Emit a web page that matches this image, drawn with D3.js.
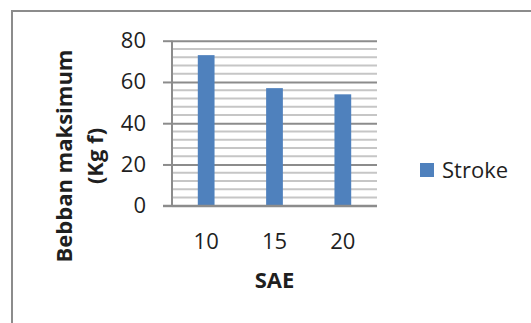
<!DOCTYPE html>
<html><head><meta charset="utf-8">
<script src="https://cdn.jsdelivr.net/npm/d3@7"></script>
<style>html,body{margin:0;padding:0;background:#fff;} svg{display:block;}</style>
</head><body>
<script>
// Maximum load per SAE grade, single series "Stroke"
const categories = ["10", "15", "20"];
const strokeValues = [73, 57, 54];
const yTicks = [0, 20, 40, 60, 80];
const seriesName = "Stroke";
const xTitle = "SAE";
const yTitleLines = ["Bebban maksimum", "(Kg f)"];

const W = 531, H = 323;
const FONT = "'Open Sans', 'DejaVu Sans', sans-serif";
const FS = 22;
const TEXT = "#1f1f1f";
const BLUE = "#4f81bd";

const svg = d3.select("body").append("svg").attr("width", W).attr("height", H);
svg.append("rect").attr("width", W).attr("height", H).attr("fill", "#fff");

// outer chart frame (runs off the right and bottom edges)
svg.append("rect").attr("x", 12).attr("y", 11).attr("width", W + 20).attr("height", H + 20)
  .attr("fill", "none").attr("stroke", "#8c8c8c").attr("stroke-width", 2);

const plot = { left: 172, right: 377, top: 40.7, bottom: 205.7 };
const y = d3.scaleLinear().domain([0, 80]).range([plot.bottom, plot.top]);
const x = d3.scaleBand().domain(categories).range([plot.left, plot.right])
  .paddingInner(0.755).paddingOuter(0.3775);

// minor gridlines every 4 units
const minor = d3.range(0, 81, 4).filter(v => v % 20 !== 0);
svg.append("g").selectAll("line").data(minor).join("line")
  .attr("x1", plot.left).attr("x2", plot.right)
  .attr("y1", d => y(d)).attr("y2", d => y(d))
  .attr("stroke", "#c6c6c6").attr("stroke-width", 2);

// major gridlines
const grid = svg.append("g").attr("transform", `translate(${plot.left},0)`)
  .call(d3.axisLeft(y).tickValues(yTicks).tickSize(-(plot.right - plot.left)).tickFormat(""));
grid.select(".domain").remove();
grid.selectAll("line").attr("stroke", "#8c8c8c").attr("stroke-width", 2);

// y axis with outside ticks and labels
const yAxis = svg.append("g").attr("transform", `translate(${plot.left},0)`)
  .call(d3.axisLeft(y).tickValues(yTicks).tickSize(9).tickPadding(17));
yAxis.select(".domain").remove();
yAxis.selectAll("line").attr("stroke", "#8c8c8c").attr("stroke-width", 2);
yAxis.selectAll("text").attr("font-family", FONT).attr("font-size", FS).attr("fill", TEXT);

svg.append("line").attr("x1", plot.left).attr("x2", plot.left)
  .attr("y1", plot.top).attr("y2", plot.bottom)
  .attr("stroke", "#8c8c8c").attr("stroke-width", 2);

// bars
svg.append("g").selectAll("rect").data(strokeValues).join("rect")
  .attr("x", (d, i) => x(categories[i]))
  .attr("width", x.bandwidth())
  .attr("y", d => y(d))
  .attr("height", d => y(0) - y(d))
  .attr("fill", BLUE);

// x axis
const xAxis = svg.append("g").attr("transform", `translate(0,${plot.bottom})`)
  .call(d3.axisBottom(x).tickSize(0).tickPadding(27.2));
xAxis.select(".domain").remove();
xAxis.selectAll("text").attr("font-family", FONT).attr("font-size", FS).attr("fill", TEXT);
svg.append("line").attr("x1", plot.left - 9).attr("x2", plot.right)
  .attr("y1", plot.bottom).attr("y2", plot.bottom)
  .attr("stroke", "#8c8c8c").attr("stroke-width", 2);

// axis titles
svg.append("text").attr("x", (plot.left + plot.right) / 2).attr("y", 288)
  .attr("text-anchor", "middle").attr("font-family", FONT).attr("font-weight", "bold")
  .attr("font-size", FS).attr("fill", TEXT).text(xTitle);

const yTitleX = [72, 103];
yTitleLines.forEach((line, i) => {
  svg.append("text").attr("transform", `translate(${yTitleX[i]},156) rotate(-90)`)
    .attr("text-anchor", "middle").attr("font-family", FONT).attr("font-weight", "bold")
    .attr("font-size", FS).attr("fill", TEXT).text(line);
});

// legend
const legend = svg.append("g").attr("transform", "translate(420,163)");
legend.append("rect").attr("width", 14).attr("height", 14).attr("fill", BLUE);
legend.append("text").attr("x", 22).attr("y", 15).attr("font-family", FONT)
  .attr("font-size", FS).attr("fill", TEXT).text(seriesName);
</script>
</body></html>
